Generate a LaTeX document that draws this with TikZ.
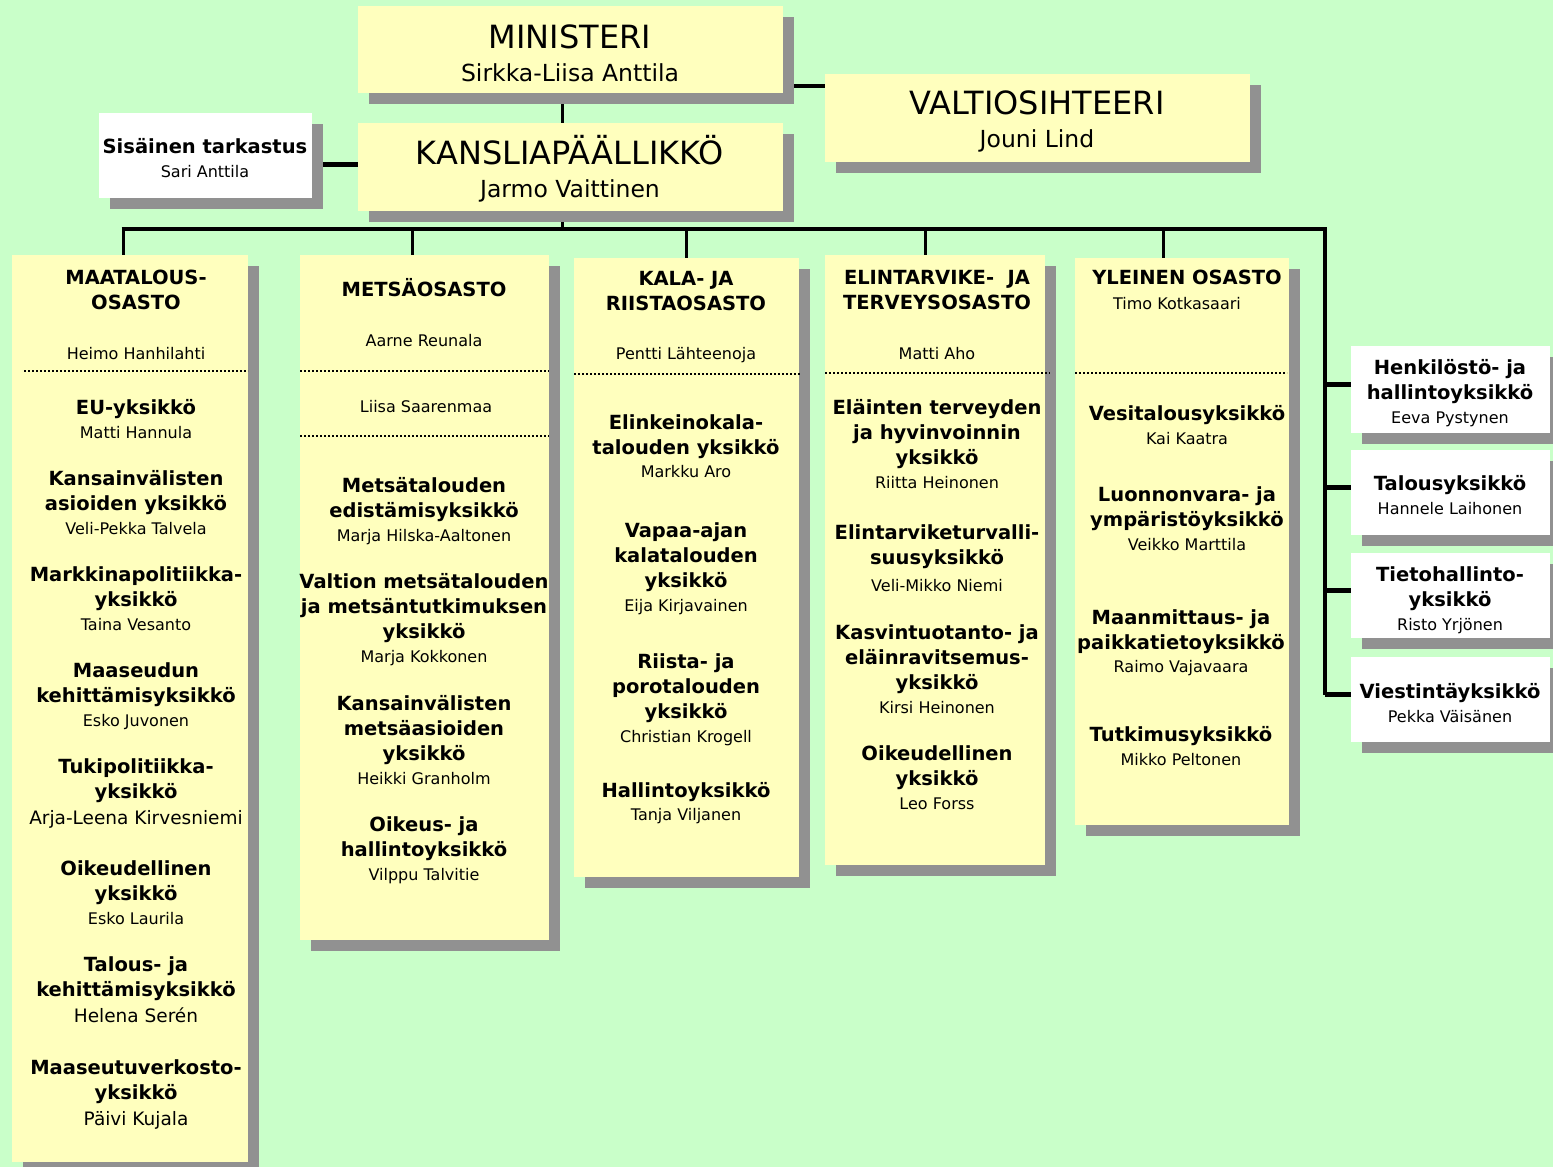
\documentclass[tikz,border=0pt]{standalone}
\usepackage{fontspec}
\setmainfont{DejaVu Sans}
\usetikzlibrary{shadows}

\definecolor{bggreen}{RGB}{201,255,201}
\definecolor{boxyellow}{RGB}{255,255,190}
\definecolor{shadowgray}{RGB}{145,145,145}

\pgfdeclarelayer{back}
\pgfsetlayers{back,main}

\newcommand{\nm}[1]{{\mdseries\fontsize{16}{20}\selectfont #1}}
\newcommand{\bignm}[1]{{\mdseries\fontsize{18.5}{22}\selectfont #1}}
\newcommand{\topnm}[1]{{\fontsize{23.5}{28}\selectfont #1}}

\begin{document}
\begin{tikzpicture}[x=1pt,y=-1pt]
\tikzstyle{box}=[rectangle, fill=boxyellow, inner sep=0pt, outer sep=0pt, anchor=north west,
  drop shadow={shadow xshift=11pt, shadow yshift=-11pt, fill=shadowgray, opacity=1}]
\tikzstyle{wbox}=[box, fill=white]
\tikzstyle{unit}=[font=\bfseries\fontsize{19.5}{25}\selectfont, align=center, anchor=north, inner sep=0pt]
\tikzstyle{person}=[unit, font=\fontsize{16}{20}\selectfont]
\tikzstyle{head}=[font=\fontsize{32}{33}\selectfont, align=center, anchor=north, inner sep=0pt]
\tikzstyle{conn}=[line width=4pt]
\tikzstyle{link}=[line width=3pt]
\tikzstyle{sep}=[line width=2.5pt, dash pattern=on 2.2pt off 1.8pt]

\useasboundingbox (0,0) rectangle (1553,1167);

% top level
\node[box, minimum width=425pt, minimum height=87pt] (min) at (358,6) {};
\node[box, minimum width=425pt, minimum height=88pt] (kan) at (358,123) {};
\node[box, minimum width=425pt, minimum height=88pt] (val) at (825,74) {};
\node[wbox, minimum width=213pt, minimum height=85pt] (sis) at (99,113) {};

\node[head] (minT) at (570,25) {MINISTERI\\\topnm{Sirkka-Liisa Anttila}};
\node[head] (kanT) at (570,135) {KANSLIAPÄÄLLIKKÖ\\\topnm{Jarmo Vaittinen}};
\node[head] (valT) at (1037,91) {VALTIOSIHTEERI\\\topnm{Jouni Lind}};
\node[unit] (sisT) at (205,138) {Sisäinen tarkastus\\[-1pt]\nm{Sari Anttila}};

% osastot
\node[box, minimum width=236pt, minimum height=907pt] (maa) at (12,255) {};
\node[box, minimum width=249pt, minimum height=685pt] (met) at (300,255) {};
\node[box, minimum width=225pt, minimum height=619pt] (kal) at (574,258) {};
\node[box, minimum width=220pt, minimum height=610pt] (eli) at (825,255) {};
\node[box, minimum width=214pt, minimum height=567pt] (yle) at (1075,258) {};

% erilliset yksikot
\node[wbox, minimum width=199pt, minimum height=87pt] (hen) at (1351,346) {};
\node[wbox, minimum width=199pt, minimum height=85pt] (tal) at (1351,450) {};
\node[wbox, minimum width=199pt, minimum height=85pt] (tie) at (1351,553) {};
\node[wbox, minimum width=199pt, minimum height=85pt] (vie) at (1351,657) {};

% maatalousosasto
\node[unit] (maaH) at (136,270) {MAATALOUS-\\OSASTO\\[25pt]\nm{Heimo Hanhilahti}};
\node[unit] (maa1) at (136,399) {EU-yksikkö\\[-1pt]\nm{Matti Hannula}};
\node[unit] (maa2) at (136,470) {Kansainvälisten\\asioiden yksikkö\\[-1pt]\nm{Veli-Pekka Talvela}};
\node[unit] (maa3) at (136,566) {Markkinapolitiikka-\\yksikkö\\[-1pt]\nm{Taina Vesanto}};
\node[unit] (maa4) at (136,662) {Maaseudun\\kehittämisyksikkö\\[-1pt]\nm{Esko Juvonen}};
\node[unit] (maa5) at (136,758) {Tukipolitiikka-\\yksikkö\\[1pt]\bignm{Arja-Leena Kirvesniemi}};
\node[unit] (maa6) at (136,860) {Oikeudellinen\\yksikkö\\[-1pt]\nm{Esko Laurila}};
\node[unit] (maa7) at (136,956) {Talous- ja\\kehittämisyksikkö\\[1pt]\bignm{Helena Serén}};
\node[unit] (maa8) at (136,1059) {Maaseutuverkosto-\\yksikkö\\[1pt]\bignm{Päivi Kujala}};

% metsaosasto
\node[unit] (metH) at (424,278) {METSÄOSASTO\\[25pt]\nm{Aarne Reunala}};
\node[person] (metP) at (426,400) {Liisa Saarenmaa};
\node[unit] (met1) at (424,477) {Metsätalouden\\edistämisyksikkö\\[-1pt]\nm{Marja Hilska-Aaltonen}};
\node[unit] (met2) at (424,573) {Valtion metsätalouden\\ja metsäntutkimuksen\\yksikkö\\[-1pt]\nm{Marja Kokkonen}};
\node[unit] (met3) at (424,695) {Kansainvälisten\\metsäasioiden\\yksikkö\\[-1pt]\nm{Heikki Granholm}};
\node[unit] (met4) at (424,816) {Oikeus- ja\\hallintoyksikkö\\[-1pt]\nm{Vilppu Talvitie}};

% kala- ja riistaosasto
\node[unit] (kalH) at (686,271) {KALA- JA\\RIISTAOSASTO\\[24pt]\nm{Pentti Lähteenoja}};
\node[unit] (kal1) at (686,414) {Elinkeinokala-\\talouden yksikkö\\[-2pt]\nm{Markku Aro}};
\node[unit] (kal2) at (686,522) {Vapaa-ajan\\kalatalouden\\yksikkö\\[-1pt]\nm{Eija Kirjavainen}};
\node[unit] (kal3) at (686,653) {Riista- ja\\porotalouden\\yksikkö\\[-1pt]\nm{Christian Krogell}};
\node[unit] (kal4) at (686,782) {Hallintoyksikkö\\[-2pt]\nm{Tanja Viljanen}};

% elintarvike- ja terveysosasto
\node[unit] (eliH) at (937,270) {ELINTARVIKE-\ \ JA\\TERVEYSOSASTO\\[25pt]\nm{Matti Aho}};
\node[unit] (eli1) at (937,399) {Eläinten terveyden\\ja hyvinvoinnin\\yksikkö\\[-1pt]\nm{Riitta Heinonen}};
\node[unit] (eli2) at (937,524) {Elintarviketurvalli-\\suusyksikkö\\[2pt]\nm{Veli-Mikko Niemi}};
\node[unit] (eli3) at (937,624) {Kasvintuotanto- ja\\eläinravitsemus-\\yksikkö\\[-1pt]\nm{Kirsi Heinonen}};
\node[unit] (eli4) at (937,745) {Oikeudellinen\\yksikkö\\[-1pt]\nm{Leo Forss}};

% yleinen osasto
\node[unit] (yleH) at (1187,270) {YLEINEN OSASTO};
\node[person] (yleP) at (1177,297) {Timo Kotkasaari};
\node[unit] (yle1) at (1187,405) {Vesitalousyksikkö\\[-1pt]\nm{Kai Kaatra}};
\node[unit] (yle2) at (1187,486) {Luonnonvara- ja\\ympäristöyksikkö\\[-1pt]\nm{Veikko Marttila}};
\node[unit] (yle3) at (1181,609) {Maanmittaus- ja\\paikkatietoyksikkö\\[-2pt]\nm{Raimo Vajavaara}};
\node[unit] (yle4) at (1181,726) {Tutkimusyksikkö\\[-1pt]\nm{Mikko Peltonen}};

\node[unit] (henT) at (1450,359) {Henkilöstö- ja\\hallintoyksikkö\\[-1pt]\nm{Eeva Pystynen}};
\node[unit] (talT) at (1450,475) {Talousyksikkö\\[-1pt]\nm{Hannele Laihonen}};
\node[unit] (tieT) at (1450,566) {Tietohallinto-\\yksikkö\\[-1pt]\nm{Risto Yrjönen}};
\node[unit] (vieT) at (1450,683) {Viestintäyksikkö\\[-1pt]\nm{Pekka Väisänen}};

% pisteviivat
\draw[sep] ([xshift=12pt]maa.west |- 0,371) -- (maa.east |- 0,371);
\draw[sep] (met.west |- 0,371) -- (met.east |- 0,371);
\draw[sep] (met.west |- 0,436) -- (met.east |- 0,436);
\draw[sep] (kal.west |- 0,374) -- ([xshift=1pt]kal.east |- 0,374);
\draw[sep] (eli.west |- 0,373) -- ([xshift=5pt]eli.east |- 0,373);
\draw[sep] (yle.west |- 0,373) -- ([xshift=-2pt]yle.east |- 0,373);

\begin{pgfonlayer}{back}
\fill[bggreen] (0,0) rectangle (1553,1167);
\coordinate (busL) at (123,229);
\coordinate (busR) at (1325,229);
\draw[conn] ([yshift=7pt]min.south east) -- ([yshift=7pt]min.south east -| val.west);
\draw[link] ([xshift=-8pt]min.south) -- ([xshift=-8pt]kan.north);
\draw[conn, line width=5pt] ([yshift=3pt]kan.west) -- ([yshift=3pt]kan.west -| sis.east);
\draw[link] ([xshift=-8pt]kan.south) -- ([xshift=-8pt]kan.south |- busL);
\draw[conn, line join=miter] ([xshift=-1.5pt]busL) -- (busR) -- ([yshift=5pt]vie.west -| busR);
\foreach \c/\dx in {maa/-7pt,met/-12pt,kal/0pt,eli/-10pt,yle/-19pt}
  \draw[link] ([xshift=\dx]\c.north) -- ([xshift=\dx]\c.north |- busL);
\foreach \b in {hen,tal,tie,vie}
  \draw[conn, line width=5pt] ([yshift=5pt]\b.west -| busR) -- ([yshift=5pt]\b.west);
\end{pgfonlayer}

\end{tikzpicture}
\end{document}
